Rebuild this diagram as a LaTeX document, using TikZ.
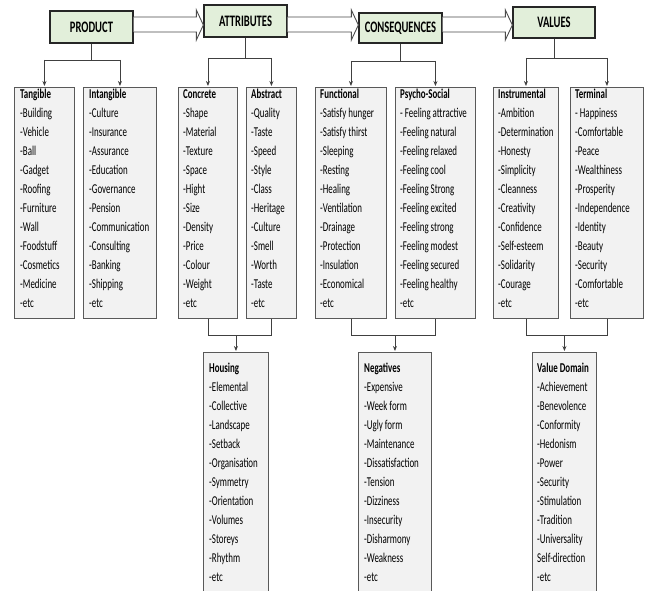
\documentclass[tikz,border=0pt]{standalone}
\usepackage{fontspec}
\setmainfont{Carlito}[FakeStretch=0.66]
\usetikzlibrary{calc,arrows.meta}
\definecolor{hdrfill}{HTML}{E2EFDA}
\definecolor{colfill}{HTML}{F2F2F2}
\begin{document}
\begin{tikzpicture}[x=1pt,y=-1pt,
  hdr/.style={draw=black!85, line width=1.3pt, fill=hdrfill, inner sep=0pt, font=\fontsize{16}{18}\selectfont\bfseries},
  colbox/.style={draw=black!65, line width=0.9pt, fill=colfill, inner sep=0pt, anchor=north west},
  coltext/.style={inner sep=0pt, align=left, anchor=north west, font=\fontsize{13.5}{19}\selectfont},
  conn/.style={draw=black!75, line width=0.9pt},
  tip/.style={-{Stealth[length=5pt,width=4pt]}, shorten >=1pt},
  hollow/.style={draw=black!70, line width=0.9pt, line join=miter, fill=white}
]
\clip (0,0) rectangle (646,591);
\fill[white] (0,0) rectangle (646,591);

% header boxes
\node[hdr, minimum width=83pt, minimum height=32pt] (prod) at (91.5,27) {PRODUCT};
\node[hdr, minimum width=83pt, minimum height=32pt] (attr) at (245.5,21) {ATTRIBUTES};
\node[hdr, minimum width=83pt, minimum height=30pt] (cons) at (400.5,28) {CONSEQUENCES};
\node[hdr, minimum width=82pt, minimum height=31pt] (vals) at (554,22.5) {VALUES};

% hollow block arrows
\draw[hollow] (prod.east |- 0,17) -- ($(attr.west |- 0,17)+(-7,0)$) -- ($(attr.west |- 0,10)+(-7,0)$)
  -- (attr.west |- 0,25) -- ($(attr.west |- 0,40)+(-7,0)$) -- ($(attr.west |- 0,32)+(-7,0)$) -- (prod.east |- 0,32);
\draw[hollow] (attr.east |- 0,17) -- ($(cons.west |- 0,17)+(-7,0)$) -- ($(cons.west |- 0,10)+(-7,0)$)
  -- (cons.west |- 0,25) -- ($(cons.west |- 0,40)+(-7,0)$) -- ($(cons.west |- 0,32)+(-7,0)$) -- (attr.east |- 0,32);
\draw[hollow] (cons.east |- 0,17) -- ($(vals.west |- 0,17)+(-7,0)$) -- ($(vals.west |- 0,10)+(-7,0)$)
  -- (vals.west |- 0,25) -- ($(vals.west |- 0,40)+(-7,0)$) -- ($(vals.west |- 0,32)+(-7,0)$) -- (cons.east |- 0,32);

% column boxes
\node[colbox, minimum width=60pt, minimum height=231pt] (tang) at (14,87) {};
\node[colbox, minimum width=73pt, minimum height=231pt] (intang) at (83,87) {};
\node[colbox, minimum width=59pt, minimum height=231pt] (conc) at (178,87) {};
\node[colbox, minimum width=50pt, minimum height=231pt] (abst) at (246,87) {};
\node[colbox, minimum width=71pt, minimum height=231pt] (func) at (315,87) {};
\node[colbox, minimum width=80pt, minimum height=231pt] (psy) at (395,87) {};
\node[colbox, minimum width=65pt, minimum height=231pt] (inst) at (493,87) {};
\node[colbox, minimum width=73pt, minimum height=231pt] (term) at (570,87) {};

\node[coltext] at ($(tang.north west)+(6,-2.3)$) {\strut\textbf{Tangible}\\-Building\\-Vehicle\\-Ball\\-Gadget\\-Roofing\\-Furniture\\-Wall\\-Foodstuff\\-Cosmetics\\-Medicine\\-etc};
\node[coltext] at ($(intang.north west)+(6,-2.3)$) {\strut\textbf{Intangible}\\-Culture\\-Insurance\\-Assurance\\-Education\\-Governance\\-Pension\\-Communication\\-Consulting\\-Banking\\-Shipping\\-etc};
\node[coltext] at ($(conc.north west)+(5,-2.3)$) {\strut\textbf{Concrete}\\-Shape\\-Material\\-Texture\\-Space\\-Hight\\-Size\\-Density\\-Price\\-Colour\\-Weight\\-etc};
\node[coltext] at ($(abst.north west)+(5,-2.3)$) {\strut\textbf{Abstract}\\-Quality\\-Taste\\-Speed\\-Style\\-Class\\-Heritage\\-Culture\\-Smell\\-Worth\\-Taste\\-etc};
\node[coltext] at ($(func.north west)+(5,-2.3)$) {\strut\textbf{Functional}\\-Satisfy hunger\\-Satisfy thirst\\-Sleeping\\-Resting\\-Healing\\-Ventilation\\-Drainage\\-Protection\\-Insulation\\-Economical\\-etc};
\node[coltext] at ($(psy.north west)+(5,-2.3)$) {\strut\textbf{Psycho-Social}\\- Feeling attractive\\-Feeling natural\\-Feeling relaxed\\-Feeling cool\\-Feeling Strong\\-Feeling excited\\-Feeling strong\\-Feeling modest\\-Feeling secured\\-Feeling healthy\\-etc};
\node[coltext] at ($(inst.north west)+(5,-2.3)$) {\strut\textbf{Instrumental}\\-Ambition\\-Determination\\-Honesty\\-Simplicity\\-Cleanness\\-Creativity\\-Confidence\\-Self-esteem\\-Solidarity\\-Courage\\-etc};
\node[coltext] at ($(term.north west)+(5,-2.3)$) {\strut\textbf{Terminal}\\- Happiness\\-Comfortable\\-Peace\\-Wealthiness\\-Prosperity\\-Independence\\-Identity\\-Beauty\\-Security\\-Comfortable\\-etc};

% bottom boxes
\node[colbox, minimum width=65pt, minimum height=260pt] (hous) at (203,352) {};
\node[colbox, minimum width=73pt, minimum height=260pt] (nega) at (358,352) {};
\node[colbox, minimum width=64pt, minimum height=260pt] (vdom) at (532,352) {};

\node[coltext] at ($(hous.north west)+(6,6.7)$) {\strut\textbf{Housing}\\-Elemental\\-Collective\\-Landscape\\-Setback\\-Organisation\\-Symmetry\\-Orientation\\-Volumes\\-Storeys\\-Rhythm\\-etc};
\node[coltext] at ($(nega.north west)+(6,6.7)$) {\strut\textbf{Negatives}\\-Expensive\\-Week form\\-Ugly form\\-Maintenance\\-Dissatisfaction\\-Tension\\-Dizziness\\-Insecurity\\-Disharmony\\-Weakness\\-etc};
\node[coltext] at ($(vdom.north west)+(5,6.7)$) {\strut\textbf{Value Domain}\\-Achievement\\-Benevolence\\-Conformity\\-Hedonism\\-Power\\-Security\\-Stimulation\\-Tradition\\-Universality\\Self-direction\\-etc};

% top connectors
\draw[conn] (prod.south) -- (prod.south |- 0,60);
\draw[conn] (tang.north |- 0,60) -- (intang.north |- 0,60);
\draw[conn,tip] (tang.north |- 0,60) -- (tang.north);
\draw[conn,tip] (intang.north |- 0,60) -- (intang.north);

\draw[conn] (attr.south) -- (attr.south |- 0,58);
\draw[conn] (conc.north |- 0,58) -- (abst.north |- 0,58);
\draw[conn,tip] (conc.north |- 0,58) -- (conc.north);
\draw[conn,tip] (abst.north |- 0,58) -- (abst.north);

\draw[conn] (cons.south) -- (cons.south |- 0,61);
\draw[conn] (func.north |- 0,61) -- (psy.north |- 0,61);
\draw[conn,tip] (func.north |- 0,61) -- (func.north);
\draw[conn,tip] (psy.north |- 0,61) -- (psy.north);

\draw[conn] (vals.south) -- (vals.south |- 0,58);
\draw[conn] (inst.north |- 0,58) -- (term.north |- 0,58);
\draw[conn,tip] (inst.north |- 0,58) -- (inst.north);
\draw[conn,tip] (term.north |- 0,58) -- (term.north);

% bottom connectors
\draw[conn] (conc.south) -- (conc.south |- 0,335) -- (abst.south |- 0,335) -- (abst.south);
\draw[conn,tip] (hous.north |- 0,335) -- (hous.north);
\draw[conn] (func.south) -- (func.south |- 0,335) -- (psy.south |- 0,335) -- (psy.south);
\draw[conn,tip] (nega.north |- 0,335) -- (nega.north);
\draw[conn] (inst.south) -- (inst.south |- 0,335) -- (term.south |- 0,335) -- (term.south);
\draw[conn,tip] (vdom.north |- 0,335) -- (vdom.north);
\end{tikzpicture}
\end{document}
